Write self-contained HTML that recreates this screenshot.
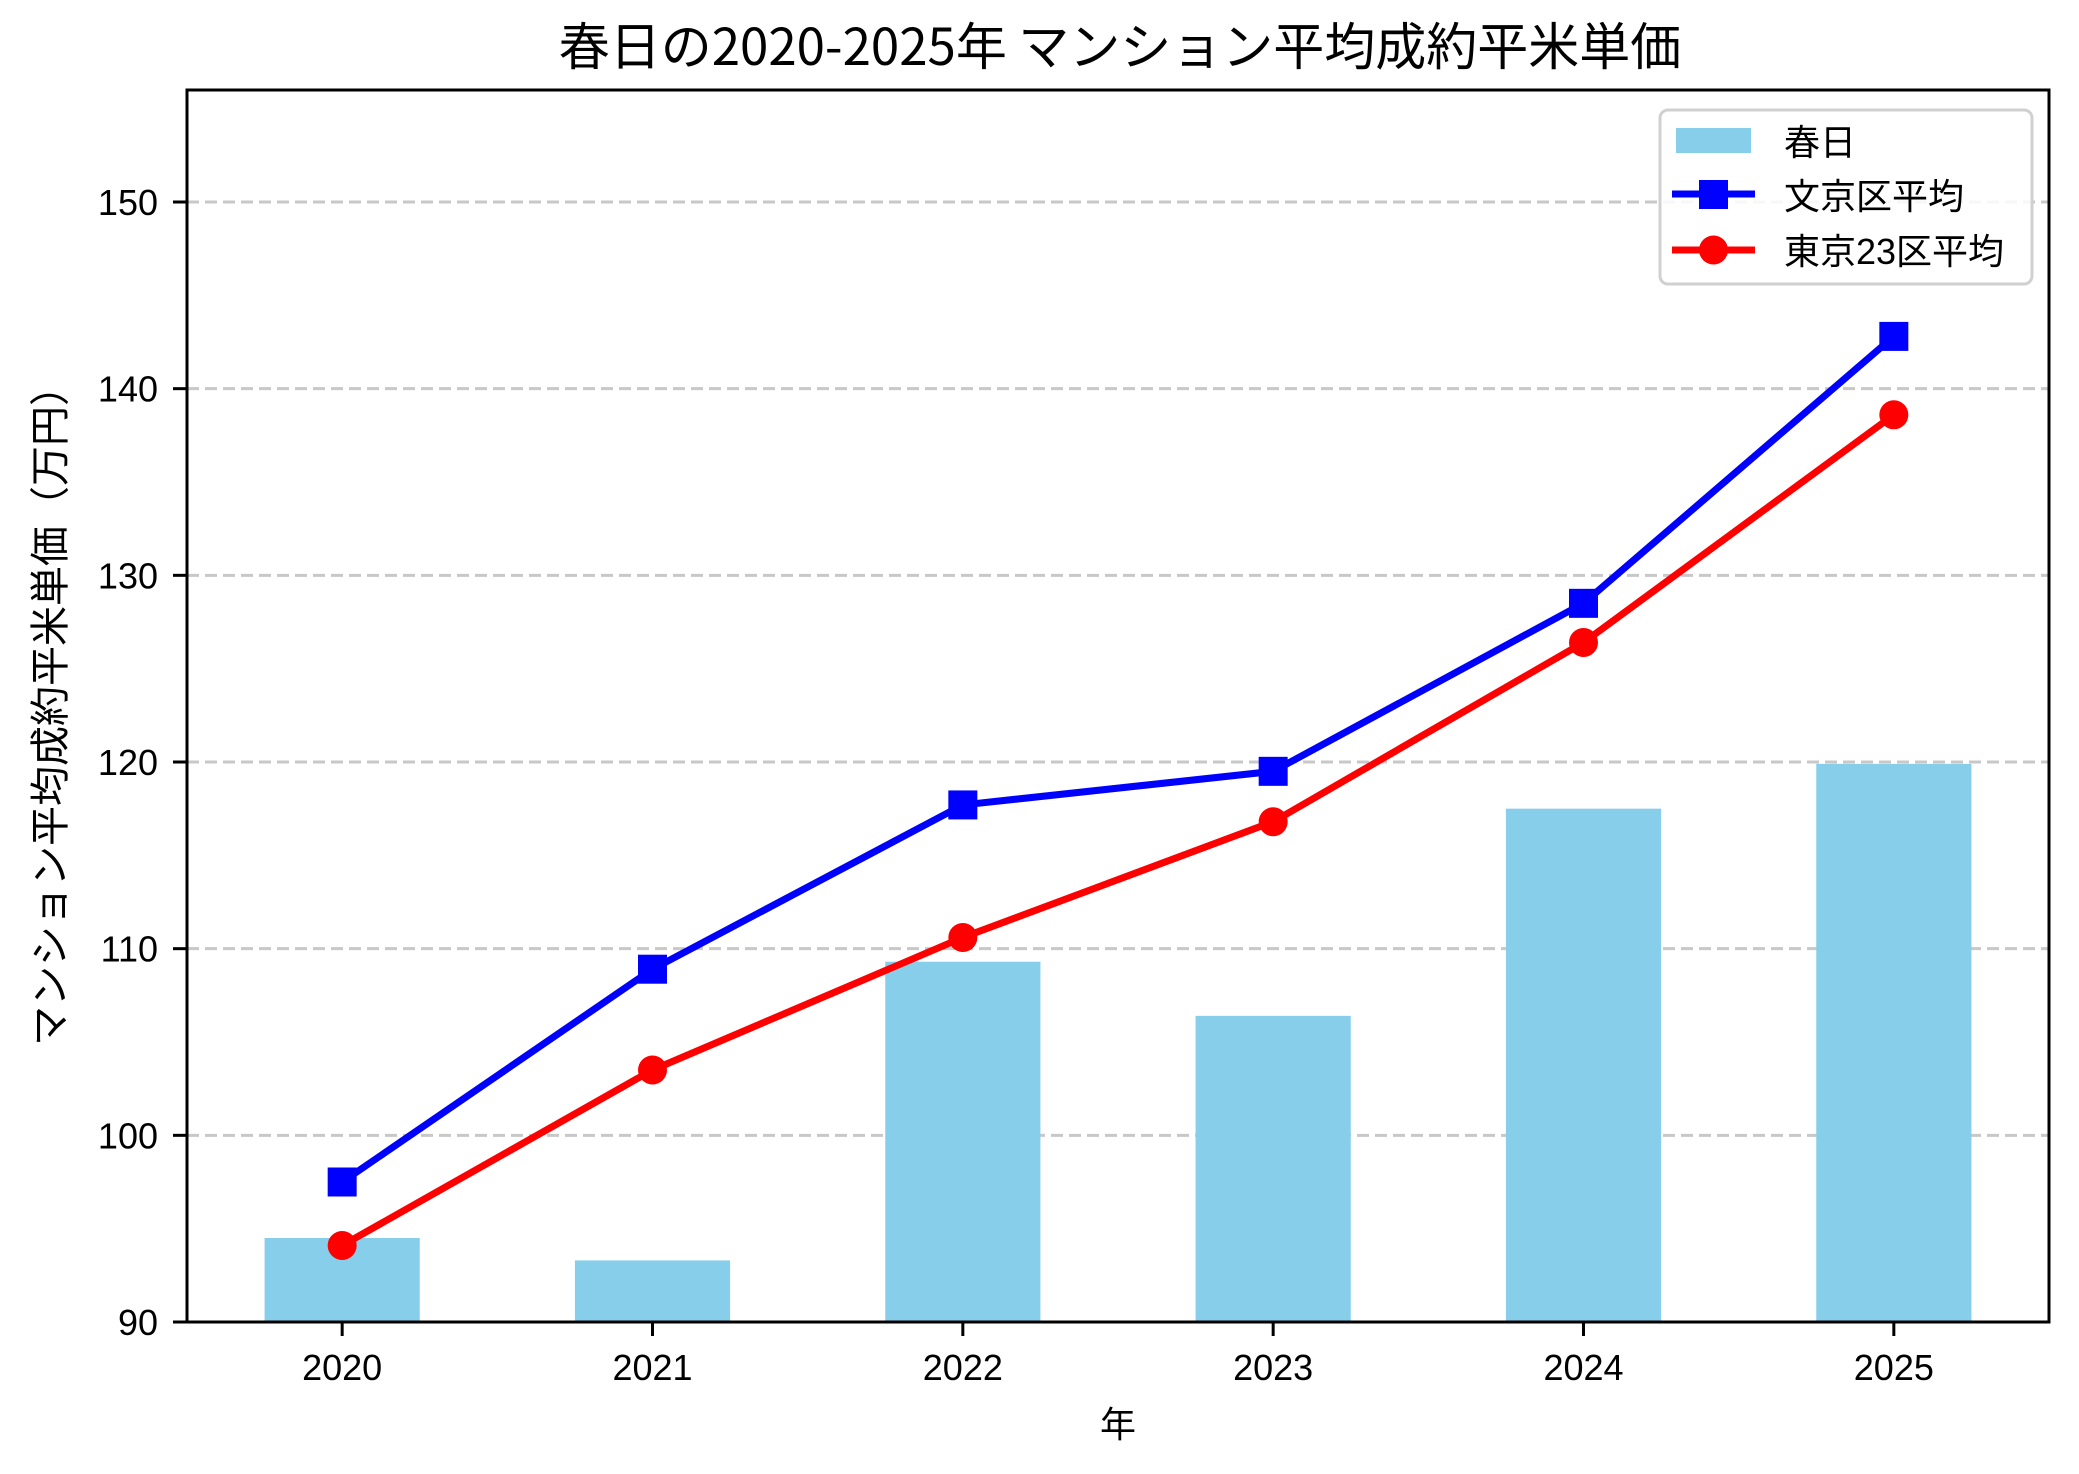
<!DOCTYPE html>
<html><head><meta charset="utf-8"><style>
html,body{margin:0;padding:0;background:#fff}
svg{display:block}
text{font-family:"Liberation Sans","Noto Sans CJK JP",sans-serif;fill:#000}
</style></head><body>
<svg id="chart" width="2079" height="1474" viewBox="0 0 2079 1474" xmlns="http://www.w3.org/2000/svg">
<rect width="2079" height="1474" fill="#fff"/>
<text x="1120" y="65" font-size="51" text-anchor="middle" style="font-family:'Noto Sans CJK JP',sans-serif">春日の2020-2025年 マンション平均成約平米単価</text>
<g id="grid"></g>
<g id="bars"></g>
<g id="lines"></g>
<rect x="187" y="90" width="1862" height="1232" fill="none" stroke="#000" stroke-width="3"/>
<g id="yticks"></g>
<g id="xticks"></g>
<text transform="translate(64,706) rotate(-90)" font-size="40" text-anchor="middle" style="font-family:'Noto Sans CJK JP',sans-serif">マンション平均成約平米単価（万円）</text>
<text x="1118" y="1437" font-size="36" text-anchor="middle">年</text>
<g>
<rect x="1660" y="110" width="372" height="174" rx="8" fill="#fff" fill-opacity="0.85" stroke="#d0d0d0" stroke-width="3"/>
<g>
<rect x="1676" y="128" width="75" height="25" fill="#87ceeb"/>
<text x="1784" y="155" font-size="36">春日</text></g>
<g>
<line x1="1672" y1="194" x2="1755" y2="194" stroke="#0000ff" stroke-width="7"/>
<rect x="1699" y="180" width="29" height="29" fill="#0000ff"/>
<text x="1784" y="209" font-size="36">文京区平均</text></g>
<g>
<line x1="1672" y1="250" x2="1755" y2="250" stroke="#ff0000" stroke-width="7"/>
<circle cx="1713.5" cy="250" r="14.5" fill="#ff0000"/>
<text x="1784" y="264" font-size="36">東京23区平均</text></g>
</g>
</svg>
<script>
const categories = ["2020","2021","2022","2023","2024","2025"];
const kasugaValues = [94.5, 93.3, 109.3, 106.4, 117.5, 119.9];
const bunkyoValues = [97.5, 108.9, 117.7, 119.5, 128.5, 142.8];
const tokyo23Values = [94.1, 103.5, 110.6, 116.8, 126.4, 138.6];
const yTickValues = [90, 100, 110, 120, 130, 140, 150];
const yDomain = [90, 156];

const NS = "http://www.w3.org/2000/svg";
const plot = {left:187, right:2049, top:90, bottom:1322};
const step = (plot.right - plot.left) / categories.length;
function xScale(i){ return plot.left + step * (i + 0.5); }
function yScale(v){ return plot.bottom - (v - yDomain[0]) / (yDomain[1] - yDomain[0]) * (plot.bottom - plot.top); }
function mk(tag, attrs, parent){ const e=document.createElementNS(NS,tag); for(const k in attrs) e.setAttribute(k, attrs[k]); parent.appendChild(e); return e; }

const grid=document.getElementById('grid'), yt=document.getElementById('yticks'), xt=document.getElementById('xticks');
yTickValues.forEach(v=>{
  const y=yScale(v);
  if(v>yDomain[0]){
    const g=mk('line',{x1:plot.left,x2:plot.right,y1:y,y2:y,stroke:'#c8c8c8','stroke-width':3,'stroke-dasharray':'12,6'},grid);
    
    
  }
  const t=mk('line',{x1:plot.left-14,x2:plot.left,y1:y,y2:y,stroke:'#000','stroke-width':3},yt);
  
  
  const l=mk('text',{x:plot.left-29,y:y+13,'font-size':36,'text-anchor':'end'},yt);
  l.textContent=v;
  
  
});
categories.forEach((c,i)=>{
  const x=xScale(i);
  const t=mk('line',{x1:x,x2:x,y1:plot.bottom,y2:plot.bottom+14,stroke:'#000','stroke-width':3},xt);
  
  
  const l=mk('text',{x:x,y:plot.bottom+58,'font-size':36,'text-anchor':'middle'},xt);
  l.textContent=c;
  
  
});
const bars=document.getElementById('bars');
kasugaValues.forEach((v,i)=>{
  const y=yScale(v), w=step*0.5;
  const b=mk('rect',{x:xScale(i)-w/2,y:y,width:w,height:plot.bottom-y,fill:'#87ceeb'},bars);
  
  
});
const lines=document.getElementById('lines');
function series(vals,color,name,marker){
  const pts=vals.map((v,i)=>xScale(i)+','+yScale(v)).join(' ');
  const pl=mk('polyline',{points:pts,fill:'none',stroke:color,'stroke-width':7,'stroke-linejoin':'round'},lines);
  
  
  vals.forEach((v,i)=>{
    let m;
    if(marker==='square') m=mk('rect',{x:xScale(i)-14.5,y:yScale(v)-14.5,width:29,height:29,fill:color},lines);
    else m=mk('circle',{cx:xScale(i),cy:yScale(v),r:14.5,fill:color},lines);
    
    
  });
}
series(bunkyoValues,'#0000ff','bunkyo','square');
series(tokyo23Values,'#ff0000','tokyo23','circle');
</script>
</body></html>
